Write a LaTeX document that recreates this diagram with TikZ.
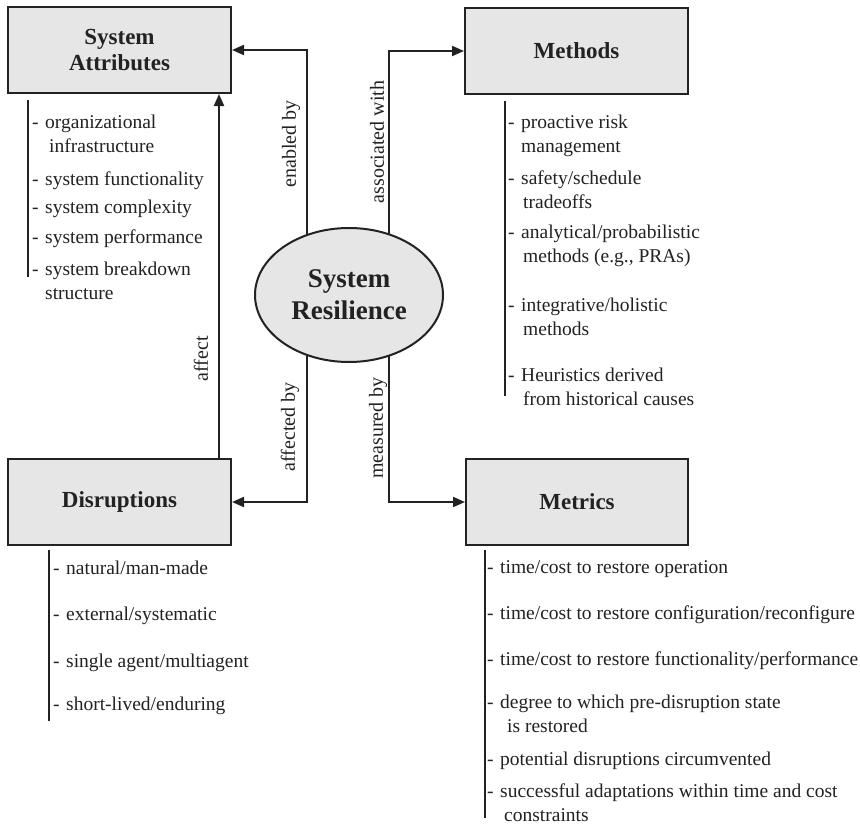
\documentclass[tikz,border=0pt]{standalone}
\usepackage{fontspec}
\setmainfont{Liberation Serif}
\usetikzlibrary{arrows.meta,shapes.geometric}
\pgfdeclarelayer{bg}
\pgfsetlayers{bg,main}
\definecolor{boxfill}{HTML}{E6E6E6}
\definecolor{ink}{HTML}{222222}
% dash that opens every list entry
\newcommand\dashitem{-\hspace{6.5pt}}
% two-line list entry, second line under the first word
\newcommand\twoline[3][0pt]{\dashitem\begin{tabular}[t]{@{}l@{}}#2\\\hspace{#1}#3\end{tabular}}

\begin{document}
\begin{tikzpicture}[x=1pt,y=-1pt,
  box/.style={draw=ink, line width=2pt, fill=boxfill, anchor=north west,
    minimum width=223pt, minimum height=86pt, inner sep=0pt, align=center,
    text=ink, font=\fontsize{23}{26}\selectfont\bfseries},
  hub/.style={ellipse, draw=ink, line width=2pt, fill=boxfill,
    minimum width=188pt, minimum height=134pt, inner sep=0pt, align=center,
    text=ink, font=\fontsize{27}{32}\selectfont\bfseries},
  conn/.style={draw=ink, line width=2pt, -{Triangle[length=12pt,width=10pt]}},
  bar/.style={draw=ink, line width=2pt},
  lab/.style={rotate=90, inner sep=0pt, text=ink, font=\fontsize{20}{22}\selectfont},
  entry/.style={anchor=base west, inner sep=0pt, text=ink, font=\fontsize{19.5}{24}\selectfont}]
\useasboundingbox (0,0) rectangle (860,827);

% concept boxes and the central ellipse
\node[box] (attr) at (7,6) {System\\Attributes};
\node[box] (meth) at (464,7) {Methods};
\node[box] (disr) at (7,458) {Disruptions};
\node[box, minimum width=222pt] (metr) at (465,458) {Metrics};
\node[hub] (sr) at (349,295) {System\\Resilience};

% relations leaving the ellipse, drawn beneath it
\begin{pgfonlayer}{bg}
\fill[white] (0,0) rectangle (860,827);
\draw[conn] ([xshift=-42pt]sr.center) |- (attr.east);
\draw[conn] ([xshift=40pt]sr.center) |- (meth.west);
\draw[conn] ([xshift=-42pt]sr.center) |- (disr.east);
\draw[conn] ([xshift=40pt]sr.center) |- (metr.west);
\end{pgfonlayer}
\draw[conn] ([xshift=-13pt]disr.north east) -- ([xshift=-13pt]attr.south east);

% relation labels
\node[lab] (l1) at (291,144) {enabled by};
\node[lab] (l2) at (377,142) {associated with};
\node[lab] (l3) at (201,359) {affect};
\node[lab] (l4) at (290,427) {affected by};
\node[lab] (l5) at (378,428) {measured by};

% list brackets under each box
\draw[bar] (attr.south west) ++(21,6) -- ++(0,177);
\draw[bar] (meth.south west) ++(41,6) -- ++(0,295);
\draw[bar] (disr.south west) ++(42,4) -- ++(0,171);
\draw[bar] (metr.south west) ++(20,4) -- ++(0,268);

% attributes
\node[entry] (a1) at (32,128) {\twoline[4pt]{organizational}{infrastructure}};
\node[entry] (a2) at (32,185) {\dashitem system functionality};
\node[entry] (a3) at (32,213) {\dashitem system complexity};
\node[entry] (a4) at (32,243) {\dashitem system performance};
\node[entry] (a5) at (32,275) {\twoline{system breakdown}{structure}};

% methods
\node[entry] (m1) at (508,128) {\twoline{proactive risk}{management}};
\node[entry] (m2) at (508,184) {\twoline[2pt]{safety/schedule}{tradeoffs}};
\node[entry] (m3) at (508,238) {\twoline[2pt]{analytical/probabilistic}{methods (e.g., PRAs)}};
\node[entry] (m4) at (508,311) {\twoline[2pt]{integrative/holistic}{methods}};
\node[entry] (m5) at (508,381) {\twoline[2pt]{Heuristics derived}{from historical causes}};

% disruptions
\node[entry] (d1) at (53,574) {\dashitem natural/man-made};
\node[entry] (d2) at (53,620) {\dashitem external/systematic};
\node[entry] (d3) at (53,667) {\dashitem single agent/multiagent};
\node[entry] (d4) at (53,710) {\dashitem short-lived/enduring};

% metrics
\node[entry] (t1) at (487,573) {\dashitem time/cost to restore operation};
\node[entry] (t2) at (487,619) {\dashitem time/cost to restore configuration/reconfigure};
\node[entry] (t3) at (487,665) {\dashitem time/cost to restore functionality/performance};
\node[entry] (t4) at (487,708) {\twoline[7pt]{degree to which pre-disruption state}{is restored}};
\node[entry] (t5) at (487,765) {\dashitem potential disruptions circumvented};
\node[entry] (t6) at (487,797) {\twoline[4pt]{successful adaptations within time and cost}{constraints}};
\end{tikzpicture}
\end{document}
